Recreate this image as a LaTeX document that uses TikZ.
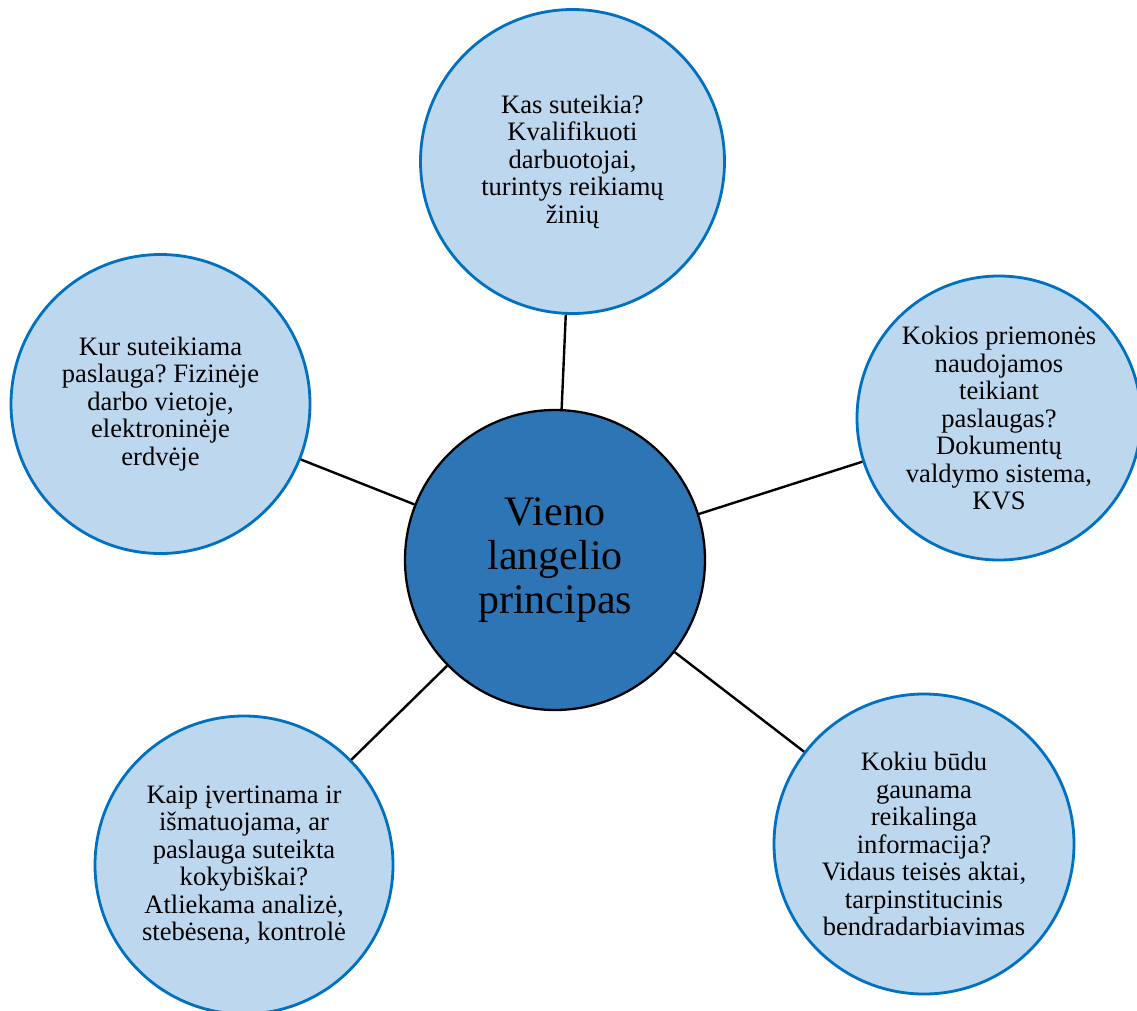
\documentclass[tikz,border=0pt]{standalone}
\usepackage{fontspec}
\setmainfont{Liberation Serif}
\frenchspacing
\definecolor{outerfill}{HTML}{BDD7EE}
\definecolor{outerline}{HTML}{0070C0}
\definecolor{centerfill}{HTML}{2E75B6}
\begin{document}
\begin{tikzpicture}[x=1pt,y=-1pt,
  outer/.style={circle,draw=outerline,fill=outerfill,line width=2.8pt,inner sep=0pt,align=center,
    font=\fontsize{26.6}{27.5}\selectfont},
  hub/.style={circle,draw=black,fill=centerfill,line width=2.3pt,inner sep=0pt,minimum size=300pt,align=center,
    font=\fontsize{42}{44}\selectfont},
  link/.style={draw=black,line width=2.4pt}]
\useasboundingbox (0,0) rectangle (1137,1010);
\node[hub] (c) at (555,560) {Vieno\\langelio\\principas};
\node[outer,minimum size=304pt] (t) at (572.5,161.5) {Kas suteikia?\\Kvalifikuoti\\darbuotojai,\\turintys reikiamų\\žinių};
\node[outer,minimum size=299pt] (l) at (160.5,404) {Kur suteikiama\\paslauga? Fizinėje\\darbo vietoje,\\elektroninėje\\erdvėje};
\node[outer,minimum size=284pt] (r) at (999,418) {Kokios priemonės\\naudojamos\\teikiant\\paslaugas?\\Dokumentų\\valdymo sistema,\\KVS};
\node[outer,minimum size=300pt] (br) at (924,844) {Kokiu būdu\\gaunama\\reikalinga\\informacija?\\Vidaus teisės aktai,\\tarpinstitucinis\\bendradarbiavimas};
\node[outer,minimum size=298pt] (bl) at (244,865) {Kaip įvertinama ir\\išmatuojama, ar\\paslauga suteikta\\kokybiškai?\\Atliekama analizė,\\stebėsena, kontrolė};
\draw[link] (c) -- (t);
\draw[link] (c) -- (l);
\draw[link] (c) -- (r);
\draw[link] (c) -- (br);
\draw[link] (c) -- (bl);
\end{tikzpicture}
\end{document}
